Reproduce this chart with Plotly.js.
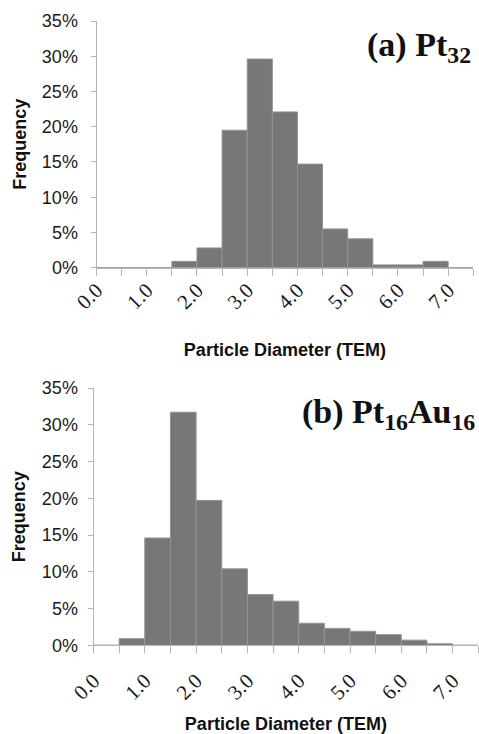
<!DOCTYPE html>
<html>
<head>
<meta charset="utf-8">
<script src="https://cdn.plot.ly/plotly-3.0.1.min.js"></script>
<style>
html,body{margin:0;padding:0;background:#fff;}
#chart{width:479px;height:734px;}
</style>
</head>
<body>
<div id="chart"></div>
<script>
// Bin centres (nm), bin width 0.5
const binCenters = [0.25, 0.75, 1.25, 1.75, 2.25, 2.75, 3.25, 3.75, 4.25, 4.75, 5.25, 5.75, 6.25, 6.75, 7.25];
// Frequency (%) for panel (a) Pt32
const freqPt32 = [0, 0, 0, 0.9, 2.8, 19.5, 29.6, 22.1, 14.7, 5.5, 4.1, 0.4, 0.4, 0.9, 0];
// Frequency (%) for panel (b) Pt16Au16
const freqPt16Au16 = [0, 0.9, 14.6, 31.7, 19.7, 10.4, 6.9, 6.0, 3.0, 2.3, 1.9, 1.45, 0.7, 0.2, 0];
// X tick positions and labels
const xTickVals = [0, 1, 2, 3, 4, 5, 6, 7];
const xTickText = ['0.0', '1.0', '2.0', '3.0', '4.0', '5.0', '6.0', '7.0'];
// Y tick positions and labels
const yTickVals = [0, 5, 10, 15, 20, 25, 30, 35];
const yTickText = ['0%', '5%', '10%', '15%', '20%', '25%', '30%', '35%'];
const panelTitles = ['(a) Pt<sub>32</sub>', '(b) Pt<sub>16</sub>Au<sub>16</sub>'];
const xTitle = 'Particle Diameter (TEM)';
const yTitle = 'Frequency';

const W = 479, H = 734;
const ML = 90; // left margin
const plotW = W - ML;
const px = v => (v - ML) / plotW;
const py = v => 1 - v / H;

const barStyle = {color: '#777777', line: {color: '#939393', width: 1}};

const traces = [
  {type: 'bar', x: binCenters, y: freqPt32, width: 0.5, marker: barStyle, xaxis: 'x', yaxis: 'y', hoverinfo: 'x+y'},
  {type: 'bar', x: binCenters, y: freqPt16Au16, width: 0.5, marker: barStyle, xaxis: 'x2', yaxis: 'y2', hoverinfo: 'x+y'}
];

const axFont = {family: 'Liberation Sans, Arial, sans-serif', size: 18, color: '#111', weight: 'bold'};
const ttlFont = {family: 'Liberation Serif, Times New Roman, serif', size: 34, color: '#111', weight: 'bold'};

function xAxis(domain, anchor, standoff, tstand) {
  return {
    domain: domain, anchor: anchor, range: [0, 7.5], fixedrange: true,
    tickmode: 'array', tickvals: xTickVals, ticktext: xTickText,
    ticks: 'outside', ticklen: 7, tickcolor: '#b5b5b5', tickwidth: 1,
    minor: {tickmode: 'linear', tick0: 0, dtick: 0.5, ticks: 'outside', ticklen: 7, tickcolor: '#b5b5b5', tickwidth: 1, showgrid: false},
    tickangle: -45, ticklabelstandoff: standoff,
    tickfont: {family: 'Liberation Serif, Times New Roman, serif', size: 21, color: '#1a1a1a'},
    title: {text: xTitle, font: axFont, standoff: tstand},
    showline: true, linecolor: '#b5b5b5', linewidth: 1,
    showgrid: false, zeroline: false, automargin: false
  };
}
function yAxis(domain, anchor, standoff, tstand) {
  return {
    domain: domain, anchor: anchor, range: [0, 35], fixedrange: true,
    tickmode: 'array', tickvals: yTickVals, ticktext: yTickText,
    ticks: 'outside', ticklen: 5, tickcolor: '#b5b5b5', tickwidth: 1,
    ticklabelstandoff: standoff,
    tickfont: {family: 'Liberation Sans, Arial, sans-serif', size: 18, color: '#1a1a1a'},
    title: {text: yTitle, font: axFont, standoff: tstand},
    showline: true, linecolor: '#b5b5b5', linewidth: 1,
    showgrid: false, zeroline: false, automargin: false
  };
}

const layout = {
  width: W, height: H,
  margin: {l: ML, r: 0, t: 0, b: 0},
  paper_bgcolor: '#fff', plot_bgcolor: '#fff',
  showlegend: false, bargap: 0,
  xaxis: xAxis([px(96.5), px(473.3)], 'y', -6, 30),
  yaxis: yAxis([py(267.7), py(21)], 'x', 9, 10),
  xaxis2: xAxis([px(93.5), px(478.3)], 'y2', 7, 18),
  yaxis2: yAxis([py(645.3), py(388)], 'x2', 6, 11),
  annotations: [
    {text: panelTitles[0], xref: 'paper', yref: 'paper', x: px(473), y: py(47), xanchor: 'right', yanchor: 'middle', showarrow: false, font: ttlFont},
    {text: panelTitles[1], xref: 'paper', yref: 'paper', x: px(477), y: py(414), xanchor: 'right', yanchor: 'middle', showarrow: false, font: ttlFont}
  ]
};

Plotly.newPlot('chart', traces, layout, {displayModeBar: false, staticPlot: true});
</script>
</body>
</html>
